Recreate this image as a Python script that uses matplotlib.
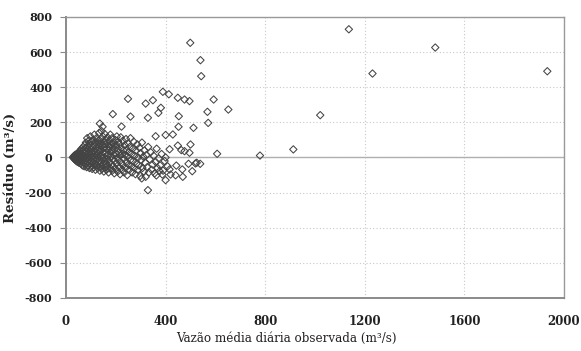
import numpy as np
import matplotlib
matplotlib.use("Agg")
import matplotlib.pyplot as plt

# valores: vazao observada (m3/s) e residuo (m3/s)
# nucleo denso perto da origem
core_x = [28, 30, 32, 33, 35, 35, 37, 38, 40, 40, 42, 42, 44, 45, 46, 47, 48, 49, 50, 50,
          52, 53, 54, 55, 56, 57, 58, 60, 60, 62, 63, 64, 65, 66, 67, 68, 69, 70, 71, 72, 73, 74, 75, 75,
          77, 78, 79, 80, 81, 82, 83, 84, 85, 86, 87, 88, 89, 90, 91, 92, 93, 94, 95, 96, 97, 98, 99, 100]
core_y = [0, 5, -5, 10, -10, 2, 15, -15, 0, 8, -20, 20, -8, 12, -25, 4, 25, -12, -2, 18,
          -30, 10, 30, -18, 0, 40, -8, 22, -35, 50, -22, 6, 35, -45, -10, 15, 60, -28, 45, 0, -50, 28, 70, -15,
          10, -38, 55, 85, -5, 35, -55, 20, 110, -25, 65, 0, -45, 45, 95, -12, 25, -60, 75, 8, -35, 120, 50, -20]

mid_x = [101, 102, 103, 104, 105, 106, 107, 108, 109, 110, 111, 112, 113, 114, 115, 116, 117, 118, 119, 120,
         121, 122, 123, 124, 125, 126, 127, 128, 129, 130,
         131, 132, 133, 134, 135, 136, 137, 138, 139, 140, 141, 142, 143, 144, 145, 146, 147, 148, 149, 150,
         151, 152, 153, 154, 155, 156, 157, 158, 159, 160, 161, 162, 163, 164, 165, 166, 167, 168, 169, 170,
         171, 172, 174, 175, 176, 177, 178, 180, 181, 182, 184, 185, 186, 187, 188, 190, 191, 192, 194, 195,
         196, 198, 199, 200, 201, 203, 204, 205, 207, 208, 209]
mid_y = [30, -50, 90, 5, -65, 60, -30, 100, 15, -10, 70, -55, 40, 130, -40, 0, 85, -70, 25, 55,
         -20, 110, 10, -45, 75, -5, 40, -60, 95, 20,
         -30, 60, 140, -15, 35, -75, 80, 5, -50, 105, 45, -25, 150, 15, -65, 70, -5, 120, 30, -40,
         90, -80, 55, 0, 135, -20, 75, -55, 25, 100, -35, 50, -70, 10, 85, -10, 115, -45, 40, 65,
         -85, 20, 95, -25, 55, -60, 130, 5, 75, -40, 35, 110, -75, -10, 60, -50, 85, 15, -90, 45,
         -20, 100, -65, 25, 70, -35, 120, 0, -80, 50, 90]

far_x = [211, 213, 214, 216, 217, 218, 220, 222, 223, 225, 226, 228, 229, 231, 232, 234, 236, 237, 239, 241,
         242, 244, 246, 247, 249, 251, 252, 254, 256, 258, 259,
         262, 264, 266, 268, 270, 272, 274, 276, 279, 281, 283, 286, 288, 290, 293, 295, 298, 300, 302, 305,
         307, 310, 313, 315, 318, 320,
         323, 326, 330, 333, 336, 340, 344, 348, 352, 356, 360, 364, 368, 372, 378, 384, 390, 396, 400, 408]
far_y = [-15, 30, -55, 75, -95, 10, 115, -30, 55, -70, 20, 95, -45, 40, -5, -85, 70, 15, -60, 105,
         -25, 45, -100, 5, 80, -40, 30, -70, 60, -15, 110,
         -50, 20, -85, 50, -20, 90, -60, 10, -95, 40, -35, 75, -70, 0, -45, 55, -105, 25, -15, 85,
         -60, 5, -80, 40, -30, -110,
         15, -55, 60, -85, -10, 30, -70, -40, 10, -90, -25, 50, -60, -5, -45, 20, -75, -20, 0, -50]

# pontos isolados
out_x = [136, 147, 188, 223, 249, 259, 320, 329, 349, 360, 371, 381, 389, 400, 413, 416, 429, 449, 449, 452,
         453, 463, 476, 476, 496, 496, 499, 500, 512, 525, 540, 543, 568, 571, 593, 607, 652, 779, 913, 1021,
         1136, 1231, 1483, 1933,
         520, 539, 507, 492, 467, 469, 440, 420, 400, 443, 387, 363, 329, 304, 376, 416]
out_y = [193, 175, 247, 176, 334, 233, 307, 226, 326, 121, 254, 283, 374, 128, 360, 47, 131, 340, 68, 175,
         235, 42, 330, 36, 321, 27, 653, 74, 169, -30, 554, 463, 260, 197, 330, 21, 273, 11, 46, 241,
         730, 478, 626, 491,
         -34, -36, -78, -36, -68, -110, -101, -97, -129, -46, -97, -102, -186, -119, -78, -68]

vazao = core_x + mid_x + far_x + out_x
residuo = core_y + mid_y + far_y + out_y

x_ticks = [0, 400, 800, 1200, 1600, 2000]
y_ticks = [-800, -600, -400, -200, 0, 200, 400, 600, 800]

plt.rcParams['font.family'] = ['DejaVu Serif']
plt.rcParams['axes.unicode_minus'] = False

fig = plt.figure(figsize=(5.81, 3.51), dpi=100)
ax = fig.add_axes([0.1136, 0.151, 0.8571, 0.8006])

ax.set_xlim(0, 2000)
ax.set_ylim(-800, 800)
ax.set_xticks(x_ticks)
ax.set_yticks(y_ticks)
ax.grid(True, color='#c8c8c8', linestyle=(0, (1, 2)), linewidth=0.8)
ax.set_axisbelow(True)
ax.axhline(0, color='#b0b0b0', linewidth=1.0, zorder=1)

ax.scatter(vazao, residuo, marker='D', s=14, facecolors='none',
           edgecolors='#444444', linewidths=0.75, zorder=3)

for side in ['left', 'bottom']:
    ax.spines[side].set_color('#8a8a8a')
    ax.spines[side].set_linewidth(1.4)
for side in ['top', 'right']:
    ax.spines[side].set_color('#9a9a9a')
    ax.spines[side].set_linewidth(1.0)

ax.tick_params(axis='y', length=4, width=0.8, color='#8a8a8a', pad=6,
               labelsize=8, labelcolor='#222222')
ax.tick_params(axis='x', length=0, pad=12, labelsize=8.5, labelcolor='#222222')
for lab in ax.get_xticklabels() + ax.get_yticklabels():
    lab.set_fontweight('bold')

ax.set_xlabel('Vazão média diária observada (m³/s)', fontsize=8.6, color='#222222')
ax.xaxis.set_label_coords(0.442, -0.12)
ax.set_ylabel('Resíduo (m³/s)', fontsize=9.6, fontweight='bold', color='#222222')
ax.yaxis.set_label_coords(-0.098, 0.463)

fig.savefig('out.png', dpi=100, facecolor='white')
